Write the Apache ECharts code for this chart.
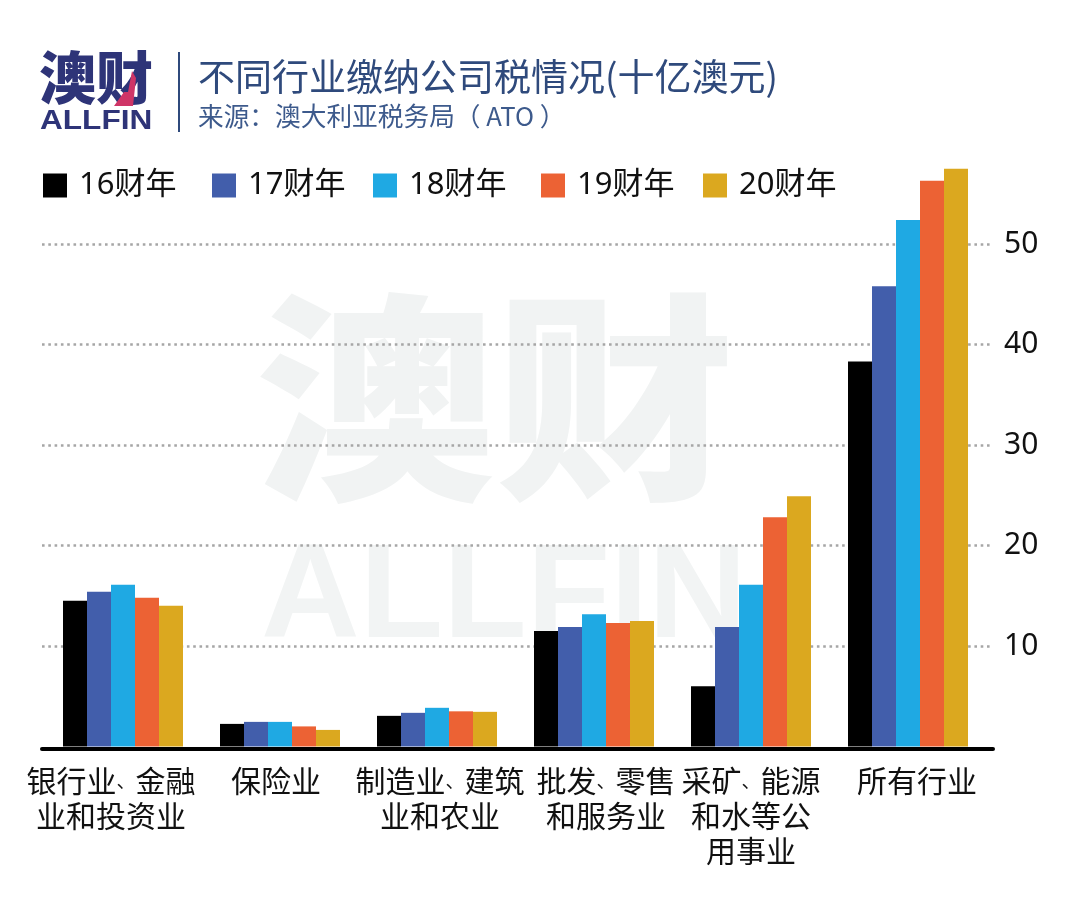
<!DOCTYPE html>
<html>
<head>
<meta charset="utf-8">
<style>html,body{margin:0;padding:0;background:#fff}#main{width:1080px;height:912px}</style>
<script src="https://cdn.jsdelivr.net/npm/echarts@6/dist/echarts.min.js"></script>
</head>
<body>
<div id="main"></div>
<script>
// DATA
var categories = ['银行业、金融\n业和投资业', '保险业', '制造业、建筑\n业和农业', '批发、零售\n和服务业', '采矿、能源\n和水等公\n用事业', '所有行业'];
var seriesNames = ['16财年', '17财年', '18财年', '19财年', '20财年'];
var fy16 = [14.5, 2.25, 3.05, 11.5, 6.0, 38.3];
var fy17 = [15.4, 2.45, 3.35, 11.9, 11.9, 45.8];
var fy18 = [16.1, 2.45, 3.85, 13.15, 16.1, 52.4];
var fy19 = [14.8, 2.0, 3.5, 12.3, 22.8, 56.3];
var fy20 = [14.0, 1.65, 3.45, 12.5, 24.9, 57.5];
var yTicks = [10, 20, 30, 40, 50];

// STYLE
var fontDigits = '"Noto Sans", "Noto Sans CJK SC", sans-serif';
var colors = ['#000000', '#425eab', '#1fa9e3', '#ec6234', '#dba81f'];
var legendLeft = [43, 212, 373, 541, 703];
var labelShift = [-12, -4, 3, 12, 0, 9]; // the labels are not quite centred under the groups
var allValues = [fy16, fy17, fy18, fy19, fy20];

// the pause mark is set narrow in the original, spacer tokens move each label off centre
var labelRich = {p: {fontSize: 19, lineHeight: 35, color: '#111', fontFamily: fontDigits}};
labelShift.forEach(function (s, i) {
    labelRich['g' + i] = {width: Math.abs(s) * 2, lineHeight: 35};
});
function categoryLabel(value, index) {
    var s = labelShift[index];
    var gap = '{g' + index + '|}';
    return value.split('\n').map(function (line) {
        line = line.replace(/、/g, '{p|、}');
        return s < 0 ? line + gap : gap + line;
    }).join('\n');
}

var chart = echarts.init(document.getElementById('main'));

var option = {
    backgroundColor: '#fff',
    animation: false,
    legend: seriesNames.map(function (name, i) {
        return {
            data: [name],
            left: legendLeft[i],
            top: 170,
            icon: 'rect',
            itemWidth: 24,
            itemHeight: 24,
            itemGap: 0,
            padding: 0,
            selectedMode: false,
            textStyle: {color: '#111', fontSize: 31, fontFamily: fontDigits, padding: [4, 0, 0, 7]}
        };
    }),
    grid: [
        {left: 42, width: 951, top: 143.5, height: 603},
        {left: 44.5, width: 942, top: 143.5, height: 603}
    ],
    xAxis: [
        {
            // only carries the long baseline
            type: 'category', gridIndex: 0, data: categories, offset: 2,
            axisLine: {show: true, onZero: false, lineStyle: {color: '#000', width: 4}},
            axisTick: {show: false}, axisLabel: {show: false}, splitLine: {show: false}
        },
        {
            type: 'category', gridIndex: 1, data: categories,
            axisLine: {show: false}, axisTick: {show: false}, splitLine: {show: false},
            axisLabel: {
                interval: 0, margin: 19, color: '#111', fontSize: 30, lineHeight: 35,
                fontFamily: fontDigits, hideOverlap: false,
                formatter: categoryLabel,
                rich: labelRich
            }
        }
    ],
    yAxis: [
        {
            type: 'value', gridIndex: 0, position: 'right', min: 0, max: 60, interval: 10,
            axisLine: {show: false}, axisTick: {show: false},
            splitLine: {
                show: true, showMinLine: false, showMaxLine: false,
                lineStyle: {color: '#a6a6a6', width: 2.6, type: [2.6, 3.7]}
            },
            axisLabel: {
                margin: 11, color: '#111', fontSize: 30, fontFamily: fontDigits,
                formatter: function (v) { return yTicks.indexOf(v) >= 0 ? String(v) : ''; }
            }
        },
        {type: 'value', gridIndex: 1, min: 0, max: 60, interval: 10, show: false}
    ],
    series: seriesNames.map(function (name, i) {
        return {
            name: name, type: 'bar', xAxisIndex: 1, yAxisIndex: 1,
            barWidth: 24, barGap: 0, z: 3,
            itemStyle: {color: colors[i]},
            data: allValues[i]
        };
    }),
    graphic: [
        // watermark
        {type: 'text', z: -1, x: 255, y: 287, scaleX: 1.03, scaleY: 0.95, style: {text: '澳财', fill: '#f1f3f3', font: '900 233px "Noto Sans CJK SC"'}},
        {type: 'text', z: -1, x: 261, y: 533, scaleX: 1.02, style: {text: 'ALLFIN', fill: '#f2f4f4', font: 'bold 134px "Liberation Sans"'}},
        // logo
        {type: 'text', x: 39, y: 49, style: {text: '澳财', fill: '#2e3478', font: '900 57px "Noto Sans CJK SC"'}},
        {type: 'polygon', shape: {points: [[132, 71], [136, 78], [133, 106], [114, 106], [124, 92], [128, 92]]}, style: {fill: '#cf3567'}},
        {type: 'text', x: 40, y: 108, scaleX: 1.17, style: {text: 'ALLFIN', fill: '#2e3478', font: 'bold 27px "Liberation Sans"'}},
        {type: 'rect', shape: {x: 178, y: 52, width: 2, height: 80}, style: {fill: '#2f4a7c'}},
        // title block
        {type: 'text', left: 198, top: 58, style: {text: '不同行业缴纳公司税情况(十亿澳元)', fill: '#2f4a7c', font: '37px "Noto Sans CJK SC"'}},
        {type: 'text', left: 198, top: 103, style: {text: '来源：澳大利亚税务局（ ATO ）', fill: '#3d5a8c', font: '25.7px "Noto Sans CJK SC"'}}
    ]
};

chart.setOption(option);
</script>
</body>
</html>
